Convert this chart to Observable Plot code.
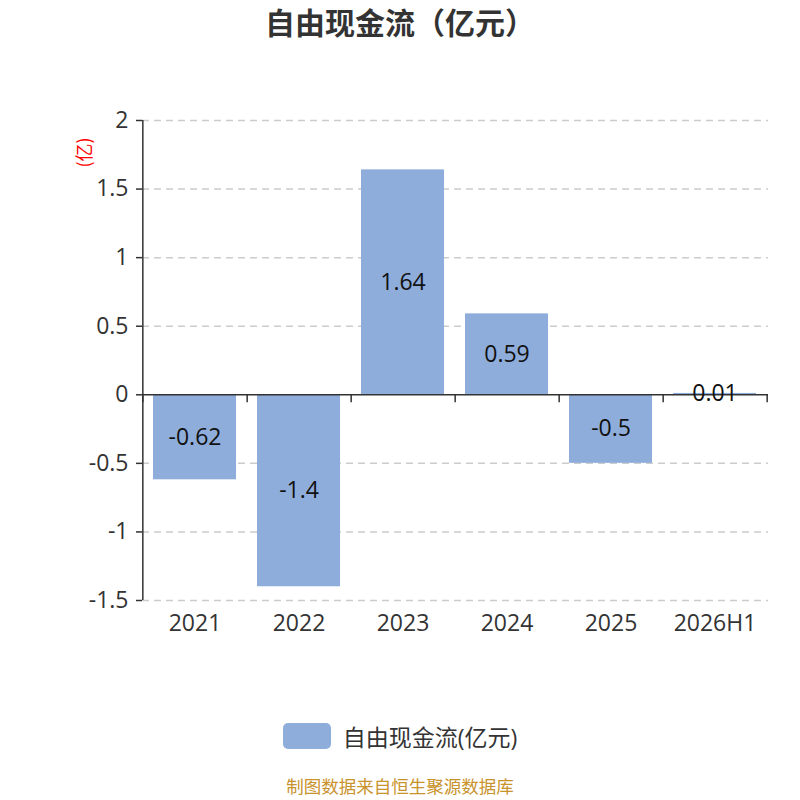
<!DOCTYPE html>
<html><head><meta charset="utf-8">
<script src="https://cdn.jsdelivr.net/npm/d3@7"></script>
<script src="https://cdn.jsdelivr.net/npm/@observablehq/plot@0.6"></script>
<style>
body{margin:0;background:#fff;font-family:"Open Sans","Noto Sans CJK SC",sans-serif;}
#wrap{width:800px;height:800px;position:relative;}
#title{height:50px;line-height:42px;text-align:center;font-size:30px;font-weight:bold;color:#333;font-family:"Noto Sans CJK SC",sans-serif;}
#legend{position:absolute;left:0;top:719px;width:800px;display:flex;justify-content:center;align-items:center;gap:12px;font-size:23px;color:#333;}
#legend .sw{width:48px;height:26px;border-radius:5px;background:#8eaddb;}
#footer{position:absolute;left:0;top:776px;width:800px;height:20px;line-height:20px;text-align:center;font-size:17.5px;color:#c8922c;font-family:"Noto Sans CJK SC",sans-serif;}
</style></head>
<body><div id="wrap">
<div id="title">自由现金流（亿元）</div>
<div id="chart"></div>
<div id="legend"><div class="sw"></div><span>自由现金流(亿元)</span></div>
<div id="footer">制图数据来自恒生聚源数据库</div>
</div>
<script>
const categories = ["2021","2022","2023","2024","2025","2026H1"];
const values = [-0.62,-1.4,1.64,0.59,-0.5,0.01];
const yTicks = [2,1.5,1,0.5,0,-0.5,-1,-1.5];
const unitLabel = "(亿)";
const data = categories.map((c,i)=>({cat:c, v:values[i]}));

const W = 800, H = 650, mL = 142, mR = 32, mT = 70, mB = 100;
const step = (W - mL - mR) / categories.length;
const color = "#8eaddb";

const chart = Plot.plot({
  width: W, height: H,
  marginLeft: mL, marginRight: mR, marginTop: mT, marginBottom: mB,
  style: {fontFamily: '"Open Sans","Noto Sans CJK SC",sans-serif', color: "#333", background: "#fff"},
  x: {domain: categories, paddingInner: 0.2, paddingOuter: 0.1, label: null},
  y: {domain: [-1.5, 2], label: null},
  marks: [
    Plot.ruleY(yTicks.filter(d => d !== 0), {y: d => d, stroke: "#ccc", strokeDasharray: "7,5", strokeWidth: 1.5}),
    Plot.barY(data, {x: "cat", y: "v", fill: color}),
    Plot.ruleY([0], {stroke: "#333", strokeWidth: 1.5}),
    Plot.ruleX([categories[0]], {x: d => d, y1: -1.5, y2: 2, dx: -step/2, stroke: "#333", strokeWidth: 1.5}),
    Plot.ruleX(categories, {x: d => d, y1: 0, y2: 0, insetBottom: -8, dx: step/2, stroke: "#333", strokeWidth: 1.5}),
    Plot.ruleX([categories[0]], {x: d => d, y1: 0, y2: 0, insetBottom: -8, dx: -step/2, stroke: "#333", strokeWidth: 1.5}),
    Plot.axisY(yTicks, {tickSize: 6, tickPadding: 8, fontSize: 23, tickFormat: d => String(d), stroke: "#333", fill: "#333", strokeWidth: 1.5}),
    Plot.axisX({tickSize: 0, tickPadding: 14, fontSize: 23, fill: "#333", label: null}),
    Plot.text(data, {x: "cat", y: d => d.v / 2, text: d => String(d.v), fontSize: 23, fill: "#111"}),
    Plot.text([unitLabel], {frameAnchor: "top-left", dx: -64, dy: 47, rotate: -90, fill: "red", fontSize: 18, fontFamily: '"Noto Sans CJK SC",sans-serif'})
  ]
});
document.getElementById("chart").appendChild(chart);
</script>
</body></html>
